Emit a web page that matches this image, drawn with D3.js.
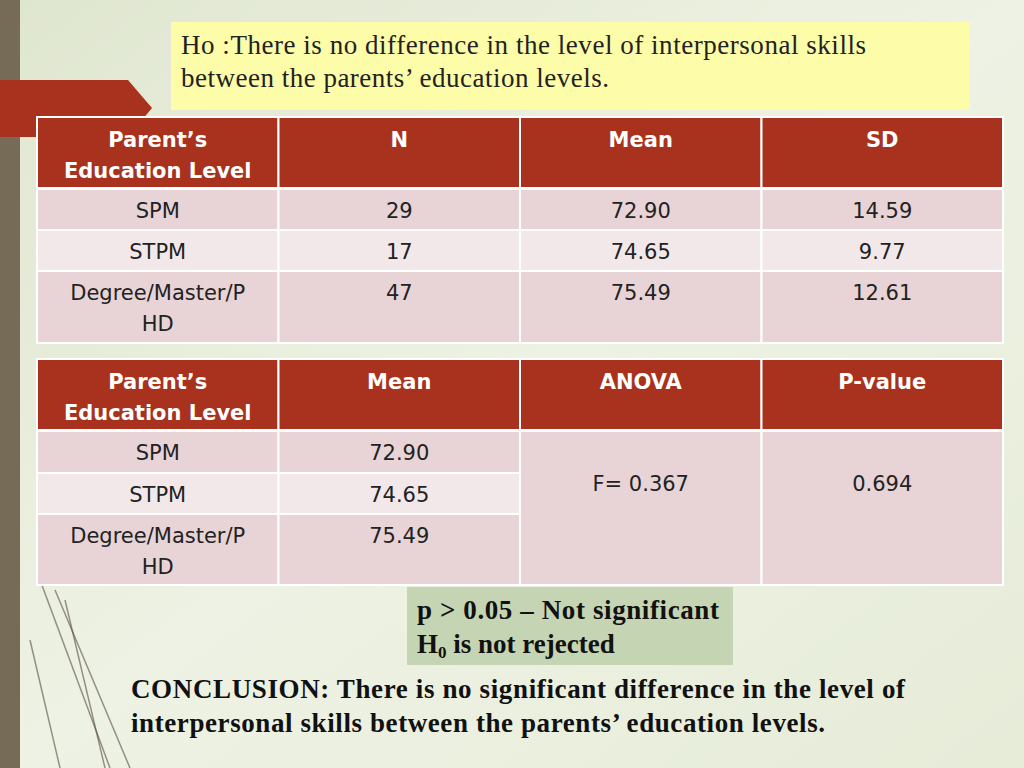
<!DOCTYPE html><html><head><meta charset="utf-8"><script src="https://cdn.jsdelivr.net/npm/d3@7"></script>
<style>body{margin:0}svg{display:block}</style></head><body><svg id="s" width="1024" height="768"></svg>
<script>
const header1=["Parent’s\nEducation Level","N","Mean","SD"];
const levels=["SPM","STPM","Degree/Master/P\nHD"];
const nVals=[29,17,47];
const means=[72.90,74.65,75.49];
const sds=[14.59,9.77,12.61];
const header2=["Parent’s\nEducation Level","Mean","ANOVA","P-value"];
const fStat=0.367, pValue=0.694;

const svg=d3.select("#s");
const defs=svg.append("defs");
const g=defs.append("linearGradient").attr("id","bg").attr("x1",0).attr("y1",0).attr("x2",1).attr("y2",1);
g.append("stop").attr("offset",0).attr("stop-color","#dfe6cf");
g.append("stop").attr("offset",0.5).attr("stop-color","#eef2e4");
g.append("stop").attr("offset",1).attr("stop-color","#e6ecd8");
svg.append("rect").attr("width",1024).attr("height",768).attr("fill","url(#bg)");
svg.append("rect").attr("width",20).attr("height",768).attr("fill","#766b56");
const ln=[[40,580,110,768],[55,590,130,768],[65,600,105,768],[30,640,60,768]];
svg.selectAll("line.d").data(ln).enter().append("line").attr("x1",d=>d[0]).attr("y1",d=>d[1]).attr("x2",d=>d[2]).attr("y2",d=>d[3]).attr("stroke","#5a5040").attr("stroke-width",1.5).attr("opacity",0.6);
svg.append("path").attr("d","M0,80 L128,80 L152,108 L128,137 L0,137 Z").attr("fill","#a8321d");
svg.append("rect").attr("x",171).attr("y",22).attr("width",799).attr("height",88).attr("fill","#fdfca8");
const t0=svg.append("text").attr("font-family","Liberation Serif").attr("font-size",27).attr("fill","#222");
t0.append("tspan").attr("x",181).attr("y",54).attr("textLength",685).text("Ho :There is no difference in the level of interpersonal skills");
t0.append("tspan").attr("x",181).attr("y",87).attr("textLength",428).text("between the parents’ education levels.");

const x=d3.scaleLinear().domain([0,4]).range([37,1003]);
const cw=x(1)-x(0);
function lines(sel,txt,cx,y){const t=sel.append("text").attr("text-anchor","middle").attr("font-family","DejaVu Sans").attr("font-size",21);
 txt.split("\n").forEach((s,i)=>t.append("tspan").attr("x",cx).attr("y",y+i*31).text(s));return t;}
function table(top,hdr,rowsY,rowsH,cells,merge){
 hdr.forEach((h,i)=>{svg.append("rect").attr("x",x(i)).attr("y",top).attr("width",cw).attr("height",71).attr("fill","#a8321d").attr("stroke","#fff").attr("stroke-width",2);
  lines(svg,h,x(i)+cw/2,top+30).attr("fill","#fff").attr("font-weight","bold");});
 const fills=["#e8d4d7","#f2e8ea","#e8d4d7"];
 rowsY.forEach((ry,r)=>{for(let c=0;c<4;c++){if(merge&&c>=2)continue;
  svg.append("rect").attr("x",x(c)).attr("y",ry).attr("width",cw).attr("height",rowsH[r]).attr("fill",fills[r]).attr("stroke","#fff").attr("stroke-width",2);
  lines(svg,cells[r][c],x(c)+cw/2,ry+29).attr("fill","#222");}});
 if(merge){const y0=rowsY[0],h=rowsY[2]+rowsH[2]-y0;
  [2,3].forEach(c=>{svg.append("rect").attr("x",x(c)).attr("y",y0).attr("width",cw).attr("height",h).attr("fill","#e8d4d7").attr("stroke","#fff").attr("stroke-width",2);
  lines(svg,merge[c-2],x(c)+cw/2,y0+60).attr("fill","#222");});}
}
table(117,header1,[189,230,271],[41,41,72],levels.map((l,i)=>[l,String(nVals[i]),means[i].toFixed(2),sds[i].toFixed(2)]),null);
table(359,header2,[431,473,514],[42,41,71],levels.map((l,i)=>[l,means[i].toFixed(2),"",""]),["F= "+fStat,String(pValue)]);

svg.append("rect").attr("x",407).attr("y",587).attr("width",326).attr("height",78).attr("fill","#c5d4b2");
const t1=svg.append("text").attr("font-family","Liberation Serif").attr("font-weight","bold").attr("font-size",27).attr("fill","#111");
t1.append("tspan").attr("x",417).attr("y",619).attr("textLength",302).text("p > 0.05 – Not significant");
const t2=svg.append("text").attr("font-family","Liberation Serif").attr("font-weight","bold").attr("font-size",27).attr("fill","#111").attr("x",417).attr("y",653);
t2.append("tspan").text("H");t2.append("tspan").attr("font-size",17).attr("dy",5).text("0");t2.append("tspan").attr("dy",-5).text(" is not rejected");
const t3=svg.append("text").attr("font-family","Liberation Serif").attr("font-weight","bold").attr("font-size",27).attr("fill","#111");
t3.append("tspan").attr("x",131).attr("y",698).attr("textLength",774).text("CONCLUSION: There is no significant difference in the level of");
t3.append("tspan").attr("x",131).attr("y",732).attr("textLength",694).text("interpersonal skills between the parents’ education levels.");
</script></body></html>
